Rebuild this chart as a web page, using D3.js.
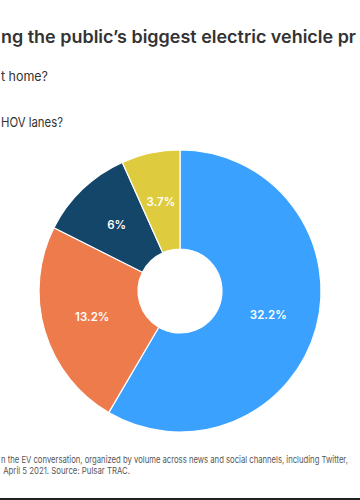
<!DOCTYPE html>
<html>
<head>
<meta charset="utf-8">
<script src="https://cdn.jsdelivr.net/npm/d3@7"></script>
<style>
  body { margin: 0; background: #fff; }
  svg { display: block; font-family: Inter, "Noto Sans", sans-serif; }
</style>
</head>
<body>
<div id="chart"></div>
<script>
// data
var categories = ['Charging', 'Cost', 'Range', 'HOV lanes'];
var shares = [32.2, 13.2, 6, 3.7];
var colors = ['#3ba1ff', '#ee7b4c', '#14466a', '#dfcb3e'];

var title_text = 'ng the public\u2019s biggest electric vehicle pr';
var questions = ['t home?', 'HOV lanes?'];
var question_widths = [47, 62];
var notes = ['n the EV conversation, organized by volume across news and social channels, including Twitter,',
             ' April 5 2021. Source: Pulsar TRAC.'];
var note_widths = [347, 129];

var width = 360, height = 500;
var svg = d3.select('#chart')
    .append('svg')
    .attr('width', width)
    .attr('height', height);

svg.append('text')
    .attr('x', 1)
    .attr('y', 43)
    .attr('fill', '#333')
    .attr('textLength', 355)
    .attr('lengthAdjust', 'spacingAndGlyphs')
    .style('font-size', '17.5px')
    .style('font-weight', 600)
    .text(title_text);

svg.selectAll('.question')
    .data(questions)
    .enter()
    .append('text')
    .attr('class', 'question')
    .attr('x', 1)
    .attr('y', function(d, i) { return 81 + i * 46; })
    .attr('fill', '#333')
    .attr('textLength', function(d, i) { return question_widths[i]; })
    .attr('lengthAdjust', 'spacingAndGlyphs')
    .style('font-size', '13.5px')
    .text(function(d) { return d; });

// donut
var color = d3.scaleOrdinal().domain(categories).range(colors);
var pie = d3.pie().sort(null).value(function(d) { return d.value; });
var arc = d3.arc().innerRadius(42).outerRadius(141);

var slices = pie(categories.map(function(c, i) {
    return {name: c, value: shares[i]};
}));

var g = svg.append('g')
    .attr('transform', 'translate(180,291)');

g.selectAll('path')
    .data(slices)
    .enter()
    .append('path')
    .attr('d', arc)
    .attr('fill', function(d) { return color(d.data.name); })
    .attr('stroke', '#fff')
    .attr('stroke-width', 1.2);

g.selectAll('.slice_label')
    .data(slices)
    .enter()
    .append('text')
    .attr('class', 'slice_label')
    .attr('transform', function(d) { return 'translate(' + arc.centroid(d) + ')'; })
    .attr('text-anchor', 'middle')
    .attr('dy', '0.35em')
    .attr('fill', '#fff')
    .style('font-size', '11.5px')
    .style('font-weight', 600)
    .text(function(d) { return d.data.value + '%'; });

// footnote: small font, stretched a bit in height
svg.selectAll('.note')
    .data(notes)
    .enter()
    .append('text')
    .attr('class', 'note')
    .attr('transform', function(d, i) { return 'translate(1,' + (463 + i * 11) + ') scale(1,1.2)'; })
    .attr('fill', '#555')
    .attr('textLength', function(d, i) { return note_widths[i]; })
    .attr('lengthAdjust', 'spacingAndGlyphs')
    .style('font-size', '7.7px')
    .style('white-space', 'pre')
    .attr('xml:space', 'preserve')
    .text(function(d) { return d; });

svg.append('rect')
    .attr('x', 0)
    .attr('y', 498)
    .attr('width', width)
    .attr('height', 2)
    .attr('fill', '#222');
</script>
</body>
</html>
